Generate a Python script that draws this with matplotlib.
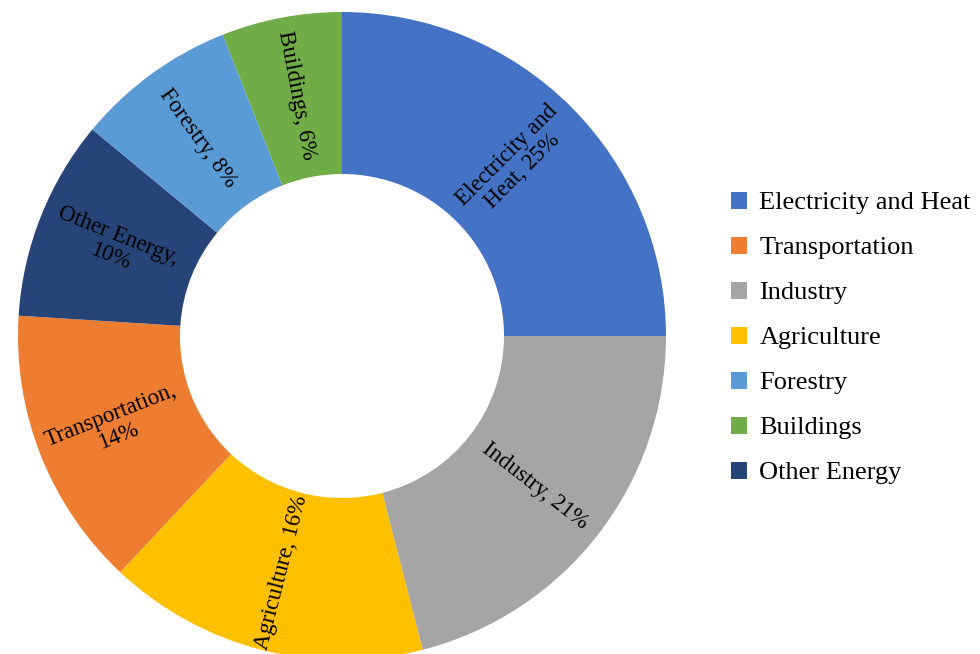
import numpy as np
import matplotlib.pyplot as plt
from matplotlib.patches import Patch

# --- Data (clockwise from 12 o'clock) ---
categories = ['Electricity and Heat', 'Industry', 'Agriculture', 'Transportation',
              'Other Energy', 'Forestry', 'Buildings']
shares = [25, 21, 16, 14, 10, 8, 6]
slice_labels = ['Electricity and\nHeat, 25%', 'Industry, 21%', 'Agriculture, 16%',
                'Transportation,\n14%', 'Other Energy,\n10%', 'Forestry, 8%', 'Buildings, 6%']
colors = ['#4472C4', '#A5A5A5', '#FFC000', '#ED7D31', '#264478', '#5B9BD5', '#70AD47']
legend_order = ['Electricity and Heat', 'Transportation', 'Industry', 'Agriculture',
                'Forestry', 'Buildings', 'Other Energy']

plt.rcParams['font.family'] = ['Liberation Serif', 'DejaVu Serif']

fig = plt.figure(figsize=(9.8, 6.54), dpi=100)
ax = fig.add_axes([18 / 980, 1 - (336 + 324) / 654, 648 / 980, 648 / 654])

wedges, _ = ax.pie(shares, colors=colors, startangle=90, counterclock=False,
                   radius=1.0, wedgeprops=dict(width=0.5, linewidth=0))
ax.set_xlim(-1, 1)
ax.set_ylim(-1, 1)
ax.set_aspect('equal')
ax.axis('off')

# radial labels in the middle of the ring
for w, text in zip(wedges, slice_labels):
    mid = (w.theta1 + w.theta2) / 2
    rad = np.deg2rad(mid)
    x, y = 0.755 * np.cos(rad), 0.755 * np.sin(rad)
    rot = mid
    while rot > 90:
        rot -= 180
    while rot < -90:
        rot += 180
    ax.text(x, y, text, rotation=rot, rotation_mode='anchor', ha='center', va='center',
            fontsize=16.5, linespacing=1.08, multialignment='center')

handles = [Patch(facecolor=colors[categories.index(c)], edgecolor='none') for c in legend_order]
fig.legend(handles, legend_order, loc='center left', bbox_to_anchor=(731 / 980, 1 - 338 / 654),
           frameon=False, fontsize=19, handlelength=0.62, handleheight=0.62,
           handletextpad=0.45, labelspacing=0.84, borderaxespad=0, borderpad=0)

fig.savefig('out.png', dpi=100)
